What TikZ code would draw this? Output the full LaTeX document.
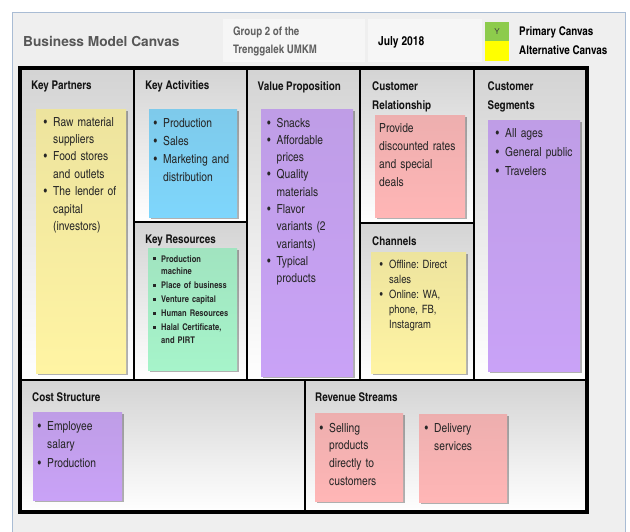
\documentclass[tikz,border=0pt]{standalone}
\usepackage{fontspec}
\setmainfont{TeX Gyre Heros}
\newfontfamily\cnfont{texgyreheroscn}[Extension=.otf,UprightFont=*-regular,BoldFont=*-bold,ItalicFont=*-italic,BoldItalicFont=*-bolditalic]
\usetikzlibrary{shadows}
\frenchspacing

\definecolor{panelbg}{HTML}{EFEFEF}
\definecolor{panelbd}{HTML}{A9BCD4}
\definecolor{headbox}{HTML}{F6F6F6}
\definecolor{primgreen}{HTML}{8DCB4C}
\definecolor{altyellow}{HTML}{FFFF00}
\definecolor{notey}{HTML}{FFF4A3}
\definecolor{noteb}{HTML}{7ED6FC}
\definecolor{noteg}{HTML}{A6F4CA}
\definecolor{notep}{HTML}{C9A2F7}
\definecolor{notek}{HTML}{FFB6B6}
\definecolor{ink}{HTML}{262626}

% line break inside a hanging paragraph
\newcommand\nl{\hfil\break}
% round-bullet item and square-bullet item (each one closes its own paragraph)
\newcommand\bitem[1]{\noindent\hangindent=9.5pt\hangafter=1\makebox[9.5pt][l]{\textbullet}#1\par}
\newcommand\sitem[1]{\noindent\hangindent=8pt\hangafter=1\makebox[8pt][l]{\rule[2pt]{2.6pt}{2.6pt}}#1\par}
\newcommand\gap[1]{\setlength\parskip{#1}}

\tikzset{
  cell/.style={top color=black!17, middle color=black!4, bottom color=white},
  gridline/.style={draw=black, line width=1.5pt},
  outerframe/.style={draw=black, line width=3.6pt},
  note/.style={top color=#1!86!gray, bottom color=#1,
    drop shadow={shadow xshift=1.5pt, shadow yshift=-1.8pt, fill=black, opacity=0.3}},
  head/.style={anchor=base west, inner sep=0pt, text=black!92,
    font=\cnfont\bfseries\fontsize{12}{18.8}\selectfont},
  body/.style={anchor=base west, inner sep=0pt, text width=120pt, align=left, text=ink,
    font=\cnfont\fontsize{12.5}{#1}\selectfont},
  body/.default=17.4,
  hdr/.style={anchor=base west, inner sep=0pt, font=\cnfont\bfseries\fontsize{12}{14}\selectfont},
}

\begin{document}
\begin{tikzpicture}[x=1pt,y=-1pt]
\useasboundingbox (0,0) rectangle (630,531);
\clip (0,0) rectangle (630,531);
\fill[white] (0,0) rectangle (630,531);

% surrounding panel
\path[fill=panelbg, draw=panelbd, line width=1pt] (12.5,12.5) rectangle (625,545);

% header
\fill[headbox] (223,19) rectangle (365,62);
\fill[headbox] (368,19) rectangle (482,62);
\node[anchor=base west, inner sep=0pt, text=black!66, font=\bfseries\fontsize{13.7}{16}\selectfont] (title) at (23,46) {Business Model Canvas};
\node[hdr, text=black!62, font=\cnfont\bfseries\fontsize{11.8}{14}\selectfont] (group1) at (233,35) {Group 2 of the};
\node[hdr, text=black!62, font=\cnfont\bfseries\fontsize{11.8}{14}\selectfont] (group2) at (233,53) {Trenggalek UMKM};
\node[hdr, font=\cnfont\bfseries\fontsize{12.5}{14}\selectfont] (date) at (378,45) {July 2018};
\path[fill=primgreen] (485,22) rectangle (509,41);
\path[fill=altyellow] (485,41) rectangle (509,61);
\node[inner sep=0pt, text=black!75, font=\fontsize{8}{9}\selectfont] (ymark) at (497,32) {Y};
\node[hdr] (primary) at (519,35) {Primary Canvas};
\node[hdr] (alternative) at (519,54) {Alternative Canvas};

% canvas cells
\path[cell] (20,68) rectangle (134,380);
\path[cell] (134,68) rectangle (247,222);
\path[cell] (134,222) rectangle (247,380);
\path[cell] (247,68) rectangle (360,380);
\path[cell] (360,68) rectangle (474,223);
\path[cell] (360,223) rectangle (474,380);
\path[cell] (474,68) rectangle (587,380);
\path[cell] (20,380) rectangle (305,512);
\path[cell] (305,380) rectangle (587,512);

% grid
\draw[gridline] (134,68) -- (134,380);
\draw[gridline] (247,68) -- (247,380);
\draw[gridline] (360,68) -- (360,380);
\draw[gridline] (474,68) -- (474,380);
\draw[gridline] (134,222) -- (247,222);
\draw[gridline] (360,223) -- (474,223);
\draw[gridline] (20,380) -- (587,380);
\draw[gridline] (305,380) -- (305,512);
\draw[outerframe] (20,68) rectangle (587,512);

% headings
\node[head] (hkp) at (31,89) {Key Partners};
\node[head] (hka) at (145,89) {Key Activities};
\node[head] (hkr) at (145,243) {Key Resources};
\node[head] (hvp) at (257.5,90) {Value Proposition};
\node[head] (hcr1) at (372,90) {Customer};
\node[head] (hcr2) at (372,109) {Relationship};
\node[head] (hch) at (372,245) {Channels};
\node[head] (hcs1) at (487.5,90) {Customer};
\node[head] (hcs2) at (487.5,109) {Segments};
\node[head] (hcost) at (32,401) {Cost Structure};
\node[head] (hrev) at (315,401) {Revenue Streams};

% sticky notes
\path[note=notey] (36,109) rectangle (126,373);
\path[note=noteb] (149,109) rectangle (237,217);
\path[note=noteg] (148,248) rectangle (237,370);
\path[note=notep] (261,109) rectangle (353,376);
\path[note=notek] (375,115) rectangle (465,217);
\path[note=notey] (371,252) rectangle (466,373);
\path[note=notep] (488,120) rectangle (580,371);
\path[note=notep] (33,412) rectangle (122,500);
\path[note=notek] (315,413) rectangle (403,501);
\path[note=notek] (419,414) rectangle (507,502);

% note texts
\node[body] (tkp) at (43.5,126) {\gap{0pt}%
  \bitem{Raw material\nl suppliers}%
  \bitem{Food stores\nl and outlets}%
  \bitem{The lender of\nl capital\nl (investors)}};
\node[body=18] (tka) at (153.5,127) {\gap{0pt}%
  \bitem{Production}%
  \bitem{Sales}%
  \bitem{Marketing and\nl distribution}};
\node[body, font=\cnfont\bfseries\fontsize{9.2}{12.5}\selectfont] (tkr) at (153,262) {\gap{1.5pt}%
  \sitem{Production\nl machine}%
  \sitem{Place of business}%
  \sitem{Venture capital}%
  \sitem{Human Resources}%
  \sitem{Halal Certificate,\nl and PIRT}};
\node[body=17.3] (tvp) at (267,127) {\gap{0pt}%
  \bitem{Snacks}%
  \bitem{Affordable\nl prices}%
  \bitem{Quality\nl materials}%
  \bitem{Flavor\nl variants (2\nl variants)}%
  \bitem{Typical\nl products}};
\node[body=18] (tcr) at (379,132) {Provide\\ discounted rates\\ and special\\ deals};
\node[body, font=\cnfont\fontsize{11.5}{15}\selectfont] (tch) at (379.5,268) {\gap{0pt}%
  \bitem{Offline: Direct\nl sales}%
  \bitem{Online: WA,\nl phone, FB,\nl Instagram}};
\node[body=19] (tcs) at (495.5,137) {\gap{0pt}%
  \bitem{All ages}%
  \bitem{General public}%
  \bitem{Travelers}};
\node[body=18.5] (tcost) at (37.5,430) {\gap{0pt}%
  \bitem{Employee\nl salary}%
  \bitem{Production}};
\node[body=17.7] (trev1) at (319.5,432) {\gap{0pt}%
  \bitem{Selling\nl products\nl directly to\nl customers}};
\node[body=18.5] (trev2) at (424.5,432) {\gap{0pt}%
  \bitem{Delivery\nl services}};
\end{tikzpicture}
\end{document}
